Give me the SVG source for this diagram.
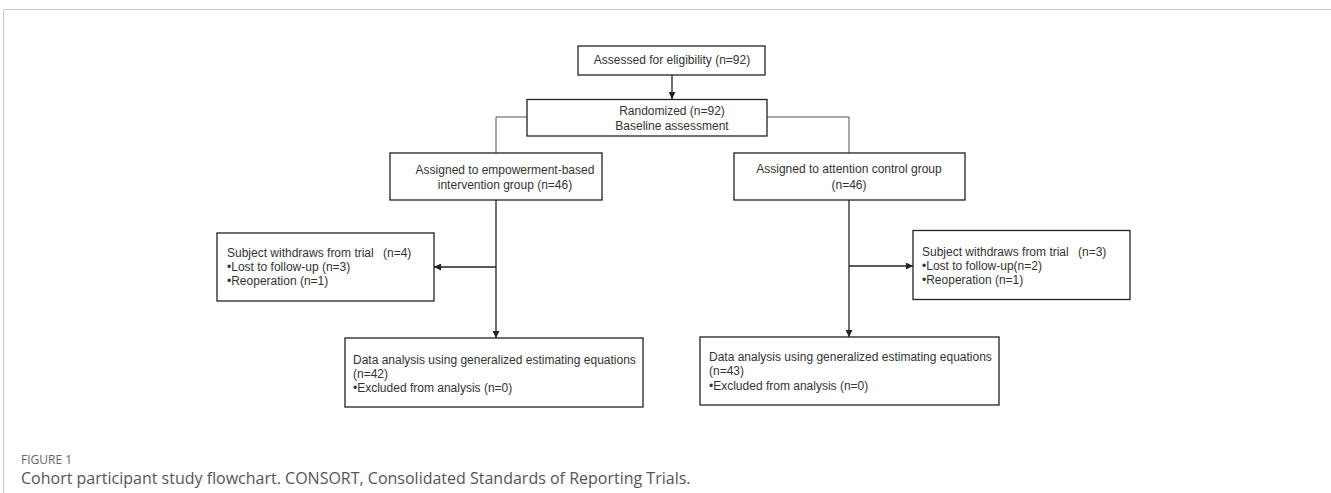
<svg xmlns="http://www.w3.org/2000/svg" width="1331" height="493" viewBox="0 0 1331 493">
<defs>
<style>
.box{fill:#fff;stroke:#222;stroke-width:1.3}
.t{font-family:"Liberation Sans",Arial,sans-serif;font-size:12px;fill:#333}
.c{text-anchor:middle}
.ln{fill:none;stroke:#222;stroke-width:1.3}
.thin{fill:none;stroke:#555;stroke-width:1}
.cap1{font-family:"Open Sans","Liberation Sans",sans-serif;font-size:12px;fill:#666}
.cap2{font-family:"Open Sans","Liberation Sans",sans-serif;font-size:16px;fill:#555}
</style>
<marker id="ah" viewBox="0 0 10 10" refX="10" refY="5" markerWidth="7" markerHeight="7" orient="auto" markerUnits="userSpaceOnUse">
<path d="M0,0 L10,5 L0,10 z" fill="#222"/>
</marker>
</defs>
<rect width="1331" height="493" fill="#fff"/>
<path d="M3.5,493 V9.5 H1331" fill="none" stroke="#c8c8c8" stroke-width="1"/>

<g id="connectors">
<line class="ln" x1="672" y1="75" x2="672" y2="99" marker-end="url(#ah)"/>
<polyline class="thin" points="527,117 496,117 496,153"/>
<polyline class="thin" points="767,117 849,117 849,153"/>
<line class="ln" x1="496" y1="200" x2="496" y2="338" marker-end="url(#ah)"/>
<line class="ln" x1="496" y1="267" x2="434" y2="267" marker-end="url(#ah)"/>
<line class="ln" x1="849" y1="200" x2="849" y2="337" marker-end="url(#ah)"/>
<line class="ln" x1="849" y1="266" x2="913" y2="266" marker-end="url(#ah)"/>
</g>

<g id="assessed">
<rect class="box" x="578" y="46" width="187" height="29"/>
<text class="t c" x="672" y="64">Assessed for eligibility (n=92)</text>
</g>

<g id="randomized">
<rect class="box" x="527" y="99.5" width="240" height="36.5"/>
<text class="t c" x="672" y="115">Randomized (n=92)</text>
<text class="t c" x="672" y="130">Baseline assessment</text>
</g>

<g id="intervention">
<rect class="box" x="390" y="153" width="212" height="47"/>
<text class="t c" x="505" y="174">Assigned to empowerment-based</text>
<text class="t c" x="505" y="189">intervention group (n=46)</text>
</g>

<g id="control">
<rect class="box" x="734" y="153" width="231" height="47"/>
<text class="t c" x="849" y="173">Assigned to attention control group</text>
<text class="t c" x="849" y="189">(n=46)</text>
</g>

<g id="withdraw-left">
<rect class="box" x="217" y="233" width="217" height="68"/>
<text class="t" x="227" y="257">Subject withdraws from trial <tspan x="383">(n=4)</tspan></text>
<text class="t" x="227" y="271">•Lost to follow-up (n=3)</text>
<text class="t" x="227" y="285">•Reoperation (n=1)</text>
</g>

<g id="withdraw-right">
<rect class="box" x="913" y="230.5" width="217" height="69"/>
<text class="t" x="922" y="256">Subject withdraws from trial <tspan x="1078">(n=3)</tspan></text>
<text class="t" x="922" y="270">•Lost to follow-up(n=2)</text>
<text class="t" x="922" y="284">•Reoperation (n=1)</text>
</g>

<g id="analysis-left">
<rect class="box" x="345" y="338" width="298" height="69"/>
<text class="t" x="353" y="364">Data analysis using generalized estimating equations</text>
<text class="t" x="353" y="378">(n=42)</text>
<text class="t" x="353" y="392">•Excluded from analysis (n=0)</text>
</g>

<g id="analysis-right">
<rect class="box" x="700" y="337" width="299" height="68"/>
<text class="t" x="709" y="361">Data analysis using generalized estimating equations</text>
<text class="t" x="709" y="375">(n=43)</text>
<text class="t" x="709" y="390">•Excluded from analysis (n=0)</text>
</g>

<g id="caption">
<text class="cap1" x="21" y="464">FIGURE 1</text>
<text class="cap2" x="21" y="484">Cohort participant study flowchart. CONSORT, Consolidated Standards of Reporting Trials.</text>
</g>
</svg>
